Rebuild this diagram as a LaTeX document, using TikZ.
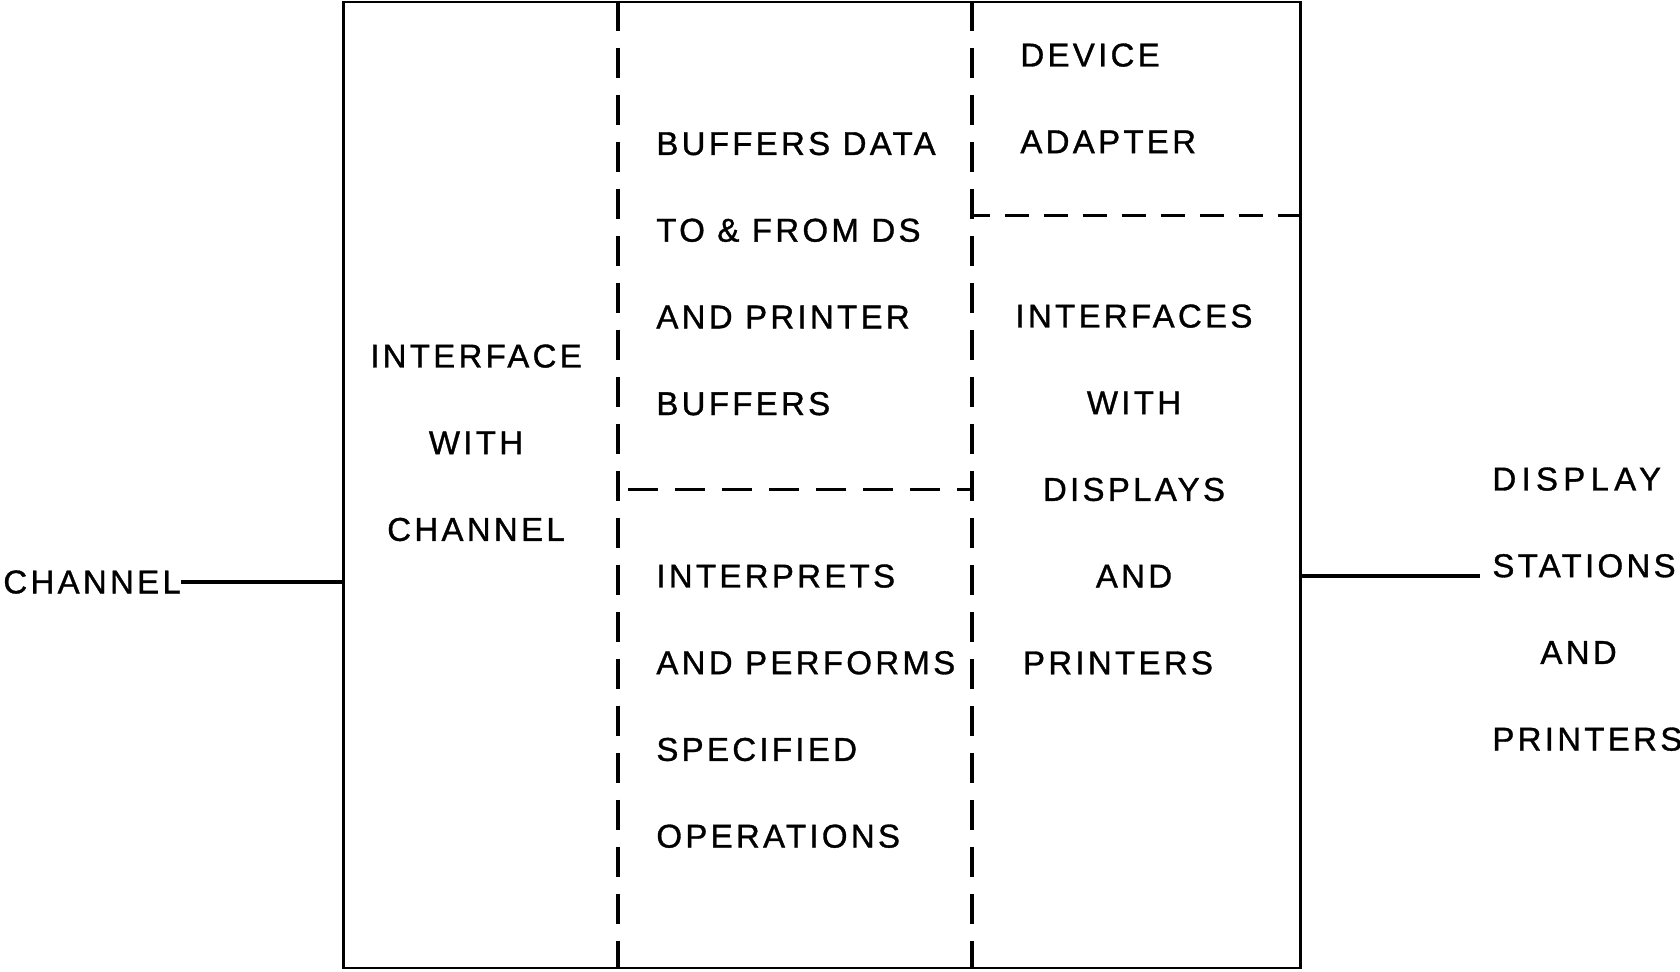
\documentclass[tikz,border=0pt]{standalone}
\usepackage{fontspec}
\setmainfont{Liberation Sans}[LetterSpace=10, FakeBold=1]
\usepackage{tikz}
\usetikzlibrary{positioning}

\begin{document}
\begin{tikzpicture}[
    x=0.5pt, y=-0.5pt,
    every node/.style={font=\fontsize{16.5}{43.35}\selectfont, inner sep=0pt},
    label/.style={align=left, anchor=north west},
    centred/.style={align=center, anchor=north},
    divider/.style={line width=1.65pt, dash pattern=on 15pt off 8.5pt},
    link/.style={line width=1.6pt},
]
    \useasboundingbox (0,0) rectangle (1680,971);

    % Controller outline and its dividers
    \node[draw, line width=1.4pt, minimum width=478.5pt, minimum height=483pt] (unit) at (822,485) {};
    \coordinate (colA) at (618,0);
    \coordinate (colB) at (972,0);
    \coordinate (rowA) at (0,489.3);
    \coordinate (rowB) at (0,215.5);
    \draw[divider] (unit.north -| colA) -- (unit.south -| colA);
    \draw[divider] (unit.north -| colB) -- (unit.south -| colB);
    \draw[divider] ([xshift=5pt]colA |- rowA) -- (colB |- rowA);
    \draw[divider, dash pattern=on 12pt off 7.5pt] (unit.east |- rowB) -- (colB |- rowB);

    % Functions
    \node[centred] (chaniface) at (476,344) {INTERFACE\\WITH\\CHANNEL};
    \node[label] (buffers) at (656,131.5) {BUFFERS DATA\\TO \& FROM DS\\AND PRINTER\\BUFFERS};
    \node[label] (interprets) at (656,564) {INTERPRETS\\AND PERFORMS\\SPECIFIED\\OPERATIONS};
    \node[label] (adapter) at (1020,43) {DEVICE\\ADAPTER};
    \node[centred] (interfaces) at (1134,304) {INTERFACES\\WITH\\DISPLAYS\\AND\\\hspace*{-16pt}PRINTERS};

    % Outside connections
    \node[anchor=west] (channel) at (3,582) {CHANNEL};
    \node[label] (stations) at (1492,467)
        {{\addfontfeature{LetterSpace=16}DISPLAY}\\STATIONS\\\hspace*{24pt}AND\\PRINTERS};
    \coordinate (outlet) at (1480,576);
    \draw[link] (channel.east) -- (channel.east -| unit.west);
    \draw[link] (unit.east |- outlet) -- (outlet);
\end{tikzpicture}
\end{document}
